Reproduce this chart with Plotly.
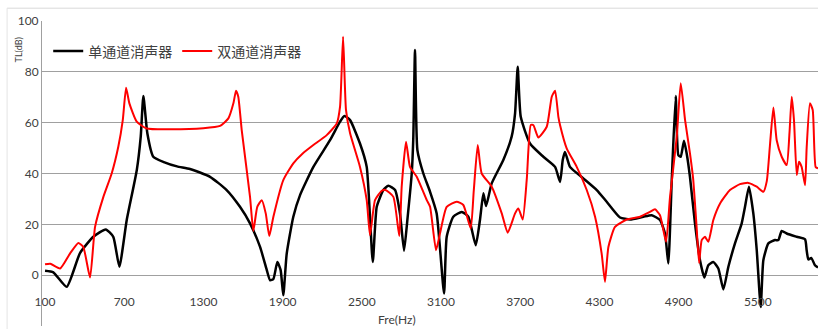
import plotly.graph_objects as go

# ---- data ----
single_freq = [100, 163, 264, 365, 466, 560, 617, 663, 719, 795, 825, 845, 875, 920, 1000, 1100,
               1198, 1350, 1476, 1577, 1653, 1729, 1780, 1805, 1830, 1860, 1885, 1905, 1931, 1981,
               2032, 2133, 2259, 2335, 2368, 2411, 2486, 2537, 2583, 2613, 2663, 2701, 2752, 2789,
               2820, 2845, 2878, 2890, 2903, 2921, 2966, 3017, 3067, 3123, 3143, 3193, 3257, 3307,
               3363, 3395, 3421, 3441, 3484, 3572, 3635, 3661, 3681, 3704, 3774, 3875, 3964, 4002,
               4022, 4039, 4077, 4178, 4280, 4355, 4456, 4532, 4633, 4696, 4759, 4797, 4822, 4848,
               4878, 4898, 4916, 4941, 4962, 4986, 5024, 5062, 5095, 5125, 5163, 5201, 5239, 5277,
               5327, 5378, 5403, 5433, 5466, 5492, 5522, 5542, 5580, 5630, 5656, 5681, 5719, 5795,
               5858, 5870, 5883, 5905, 5933, 5956]
single_tl = [1.7, 1.1, -4.6, 8.7, 15.1, 18.0, 15.1, 3.3, 21.7, 41.3, 54.5, 70.5, 55.8, 46.6, 44.5, 42.8,
             41.8, 38.7, 33.5, 26.9, 20.4, 11.1, 2.0, -2.0, -1.5, 5.2, 2.0, -7.9, 8.5, 23.0,
             31.5, 42.6, 53.1, 60.4, 62.6, 61.0, 51.8, 42.6, 5.2, 26.9, 33.5, 35.2, 33.5, 24.3,
             9.6, 21.7, 40.0, 54.0, 88.6, 49.2, 40.0, 32.8, 24.3, -7.2, 15.1, 23.0, 24.9, 23.0,
             11.8, 21.7, 32.2, 27.2, 36.1, 45.3, 54.5, 63.7, 82.0, 62.3, 51.8, 46.6, 42.6, 36.7,
             45.3, 48.5, 42.6, 38.1, 33.5, 28.9, 22.7, 21.9, 23.0, 23.6, 21.7, 16.4, 4.6, 37.4,
             70.5, 47.2, 46.6, 52.9, 47.6, 38.7, 20.4, 5.9, -0.9, 3.9, 5.2, 2.6, -5.6, 3.3,
             12.5, 20.4, 26.9, 34.8, 24.3, 9.8, -12.5, 5.9, 12.5, 13.8, 13.8, 17.4, 16.4, 15.1,
             14.1, 9.8, 6.2, 6.8, 3.9, 3.0]

dual_freq = [100, 140, 214, 289, 352, 390, 441, 479, 542, 605, 655, 689, 714, 739, 795, 870, 1047,
             1299, 1426, 1489, 1527, 1547, 1564, 1590, 1653, 1678, 1708, 1742, 1772, 1799, 1830,
             1905, 1981, 2050, 2133, 2234, 2310, 2335, 2358, 2380, 2411, 2486, 2537, 2562, 2600,
             2651, 2680, 2739, 2784, 2802, 2835, 2865, 2916, 2992, 3017, 3062, 3092, 3143, 3219,
             3269, 3325, 3348, 3378, 3408, 3484, 3560, 3605, 3661, 3686, 3719, 3750, 3780, 3800,
             3837, 3901, 3939, 3964, 3989, 4002, 4052, 4128, 4204, 4267, 4317, 4342, 4368, 4418,
             4507, 4608, 4683, 4721, 4759, 4805, 4835, 4886, 4916, 4949, 4986, 5010, 5035, 5055,
             5075, 5100, 5125, 5163, 5214, 5289, 5365, 5428, 5492, 5542, 5568, 5593, 5618, 5643,
             5681, 5719, 5740, 5757, 5774, 5795, 5812, 5832, 5858, 5870, 5895, 5916, 5938, 5956]
dual_tl = [4.3, 4.5, 2.6, 8.5, 12.7, 11.1, -0.9, 19.0, 30.8, 40.0, 50.5, 61.0, 73.7, 67.6, 60.4, 57.7, 57.4,
           57.8, 58.7, 61.7, 67.6, 72.6, 70.2, 57.1, 30.8, 17.4, 26.9, 29.5, 24.3, 15.4, 23.0,
           37.4, 44.0, 47.8, 51.2, 55.1, 59.7, 66.3, 93.8, 65.0, 55.8, 42.6, 29.5, 15.7, 29.5,
           33.2, 33.5, 30.8, 15.4, 34.8, 52.5, 42.6, 38.7, 29.5, 26.9, 9.8, 16.4, 26.9, 28.9,
           27.6, 18.4, 33.2, 51.2, 40.0, 34.8, 24.3, 16.7, 24.3, 26.2, 21.9, 38.0, 59.1, 59.0,
           54.2, 58.4, 70.2, 72.6, 62.3, 59.0, 49.9, 42.6, 33.5, 23.0, 8.5, -2.6, 11.1, 19.0,
           21.9, 23.0, 24.9, 25.9, 23.6, 13.1, 30.8, 54.5, 75.5, 61.0, 47.9, 38.0, 20.0, 4.8,
           13.8, 15.1, 13.1, 21.7, 28.2, 33.5, 35.8, 36.3, 34.8, 32.8, 37.0, 51.8, 66.0, 53.1,
           46.6, 43.3, 56.0, 70.2, 61.0, 39.4, 44.6, 42.6, 35.4, 50.0, 67.6, 65.0, 42.6, 42.0]

series_names = ["单通道消声器", "双通道消声器"]
x_ticks = [100, 700, 1300, 1900, 2500, 3100, 3700, 4300, 4900, 5500]
y_ticks = [-20, 0, 20, 40, 60, 80, 100]

FONT = "Lato, 'Noto Sans CJK SC', sans-serif"
CJK = "'Noto Sans CJK SC', sans-serif"

fig = go.Figure()
fig.add_trace(go.Scatter(x=single_freq, y=single_tl, mode="lines", name=series_names[0],
                         line=dict(color="#000000", width=2.5, shape="spline", smoothing=0.5)))
fig.add_trace(go.Scatter(x=dual_freq, y=dual_tl, mode="lines", name=series_names[1],
                         line=dict(color="#FF0000", width=2, shape="spline", smoothing=0.5)))

fig.update_layout(
    width=818, height=329,
    margin=dict(l=42, r=0, t=21, b=3),
    paper_bgcolor="white", plot_bgcolor="white",
    font=dict(family=FONT, size=12, color="#404040"),
    showlegend=True,
    legend=dict(orientation="h", x=0.008, y=0.90, xanchor="left", yanchor="middle",
                bgcolor="rgba(0,0,0,0)", font=dict(family=CJK, size=14, color="#404040"),
                itemwidth=30),
    xaxis=dict(range=[77, 5956], tickmode="array", tickvals=x_ticks,
               ticktext=[str(v) for v in x_ticks], showgrid=False, zeroline=False,
               showline=False, ticks="", anchor="free", position=0.108, automargin=False,
               tickfont=dict(family=FONT, size=12, color="#404040")),
    yaxis=dict(range=[-20, 100], tickmode="array", tickvals=y_ticks, automargin=False,
               showgrid=True, gridcolor="#A0A0A0", gridwidth=1, zeroline=False,
               showline=True, linecolor="#A0A0A0", linewidth=1, ticks="",
               tickfont=dict(family=FONT, size=12, color="#404040")),
    annotations=[
        dict(text="TL(dB)", x=-0.030, y=0.906, xref="paper", yref="paper", showarrow=False,
             xanchor="center", yanchor="middle",
             textangle=-90, font=dict(family=FONT, size=9, color="#404040")),
        dict(text="Fre(Hz)", x=0.457, y=0.02, xref="paper", yref="paper", showarrow=False,
             xanchor="center", yanchor="middle",
             font=dict(family=FONT, size=12, color="#404040")),
    ],
    shapes=[
        dict(type="line", xref="paper", yref="paper", x0=-0.045, x1=1.0, y0=1.042, y1=1.042,
             line=dict(color="#D9D9D9", width=1)),
        dict(type="line", xref="paper", yref="paper", x0=-0.045, x1=-0.045, y0=-0.01, y1=1.042,
             line=dict(color="#E4E4E4", width=1)),
    ],
)

fig.write_html("out.html", config={"displayModeBar": False},
               post_script="document.body.style.margin='0';document.body.style.overflow='hidden';")
